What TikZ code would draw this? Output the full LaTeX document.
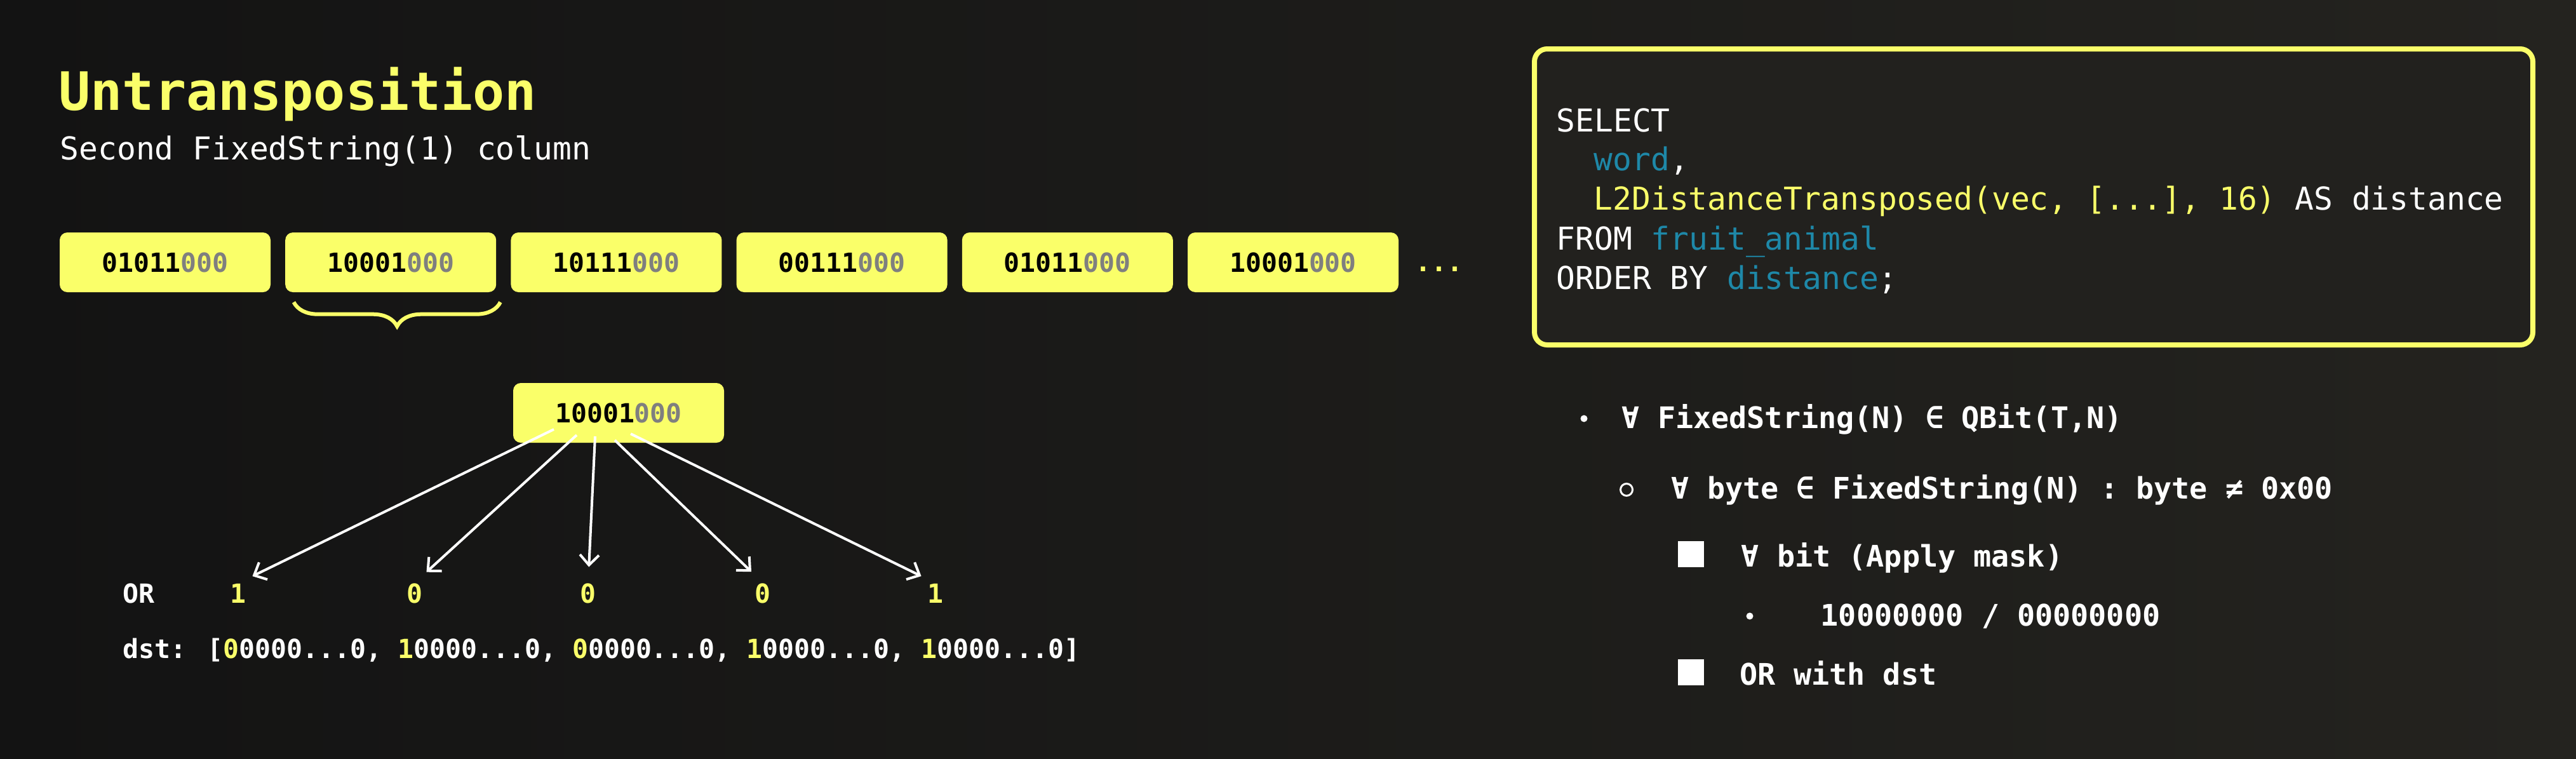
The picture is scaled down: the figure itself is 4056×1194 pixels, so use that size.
\documentclass[tikz,border=0pt]{standalone}
\usepackage{fontspec}
\usepackage{tikz}
\usetikzlibrary{arrows.meta,calc,decorations.pathreplacing}
\newfontfamily\monofont{DejaVu Sans Mono}
\definecolor{chyellow}{HTML}{FAFF69}
\definecolor{chblue}{HTML}{1E88A8}
\definecolor{bitgray}{HTML}{7F7F7F}
\definecolor{bgleft}{HTML}{131313}
\definecolor{bgright}{HTML}{24231F}
\definecolor{codebg}{HTML}{22211E}
\newcommand\titlefont{\monofont\bfseries\fontsize{23.7}{28}\selectfont}
\newcommand\subfont{\monofont\fontsize{14.1}{17}\selectfont}
\newcommand\bitfont{\monofont\bfseries\fontsize{11.8}{14}\selectfont}
\newcommand\listfont{\monofont\bfseries\fontsize{13.3}{16}\selectfont}
\newcommand\bits[2]{\textcolor{black}{#1}\textcolor{bitgray}{#2}}
\newcommand\hl[1]{\textcolor{chyellow}{#1}}
\newcommand\kw[1]{\textcolor{chblue}{#1}}
\tikzset{
  txt/.style={anchor=base west,inner sep=0pt,text=white},
  bitbox/.style={rectangle,rounded corners=1.2mm,fill=chyellow,minimum width=33.2mm,
    minimum height=9.4mm,inner sep=0pt,font=\bitfont},
  ordigit/.style={anchor=base,inner sep=0pt,text=chyellow,font=\bitfont},
  sqlline/.style={txt,font=\subfont},
  listtxt/.style={txt,font=\listfont},
  bulletdot/.style={circle,fill=white,inner sep=0pt,minimum size=1.1mm},
  bulletring/.style={circle,draw=white,line width=0.3mm,inner sep=0pt,minimum size=1.9mm},
  bulletsq/.style={rectangle,fill=white,inner sep=0pt,minimum size=4.1mm}
}

\begin{document}
\begin{tikzpicture}[x=0.1mm,y=-0.1mm,>={Straight Barb[length=1.6mm,width=3mm]}]
  % The background
  \fill[left color=bgleft,right color=bgright] (0,0) rectangle (4056,1194);
  \useasboundingbox (0,0) rectangle (4056,1194);
  % The title
  \node[txt,text=chyellow,font=\titlefont] (title) at (92,173) {Untransposition};
  \node[txt,font=\subfont] (subtitle) at (94,251) {Second FixedString(1) column};
  % The column
  \foreach \k/\hibits/\lobits in {0/01011/000,1/10001/000,2/10111/000,3/00111/000,4/01011/000,5/10001/000}
    \node[bitbox] (b\k) at (260+355.2*\k,413) {\bits{\hibits}{\lobits}};
  \node[txt,text=chyellow,font=\bitfont] (more) at (2228,427) {...};
  \draw[chyellow,line width=0.6mm,decorate,decoration={brace,amplitude=3.8mm}]
    ($(b1.south east)+(6,15)$) -- ($(b1.south west)+(14,15)$);
  % The selected value
  \node[bitbox] (sel) at (974,650) {\bits{10001}{000}};
  \foreach \k/\dx/\dy in {1/-102/26,2/-66/35,3/-37/37,4/-6/43,5/19/33}
    \coordinate (s\k) at ($(sel.center)+(\dx,\dy)$);
  % The bits
  \node[txt,font=\bitfont] (orlabel) at (193,949) {OR};
  \foreach \k/\xx/\v in {1/375/1,2/653/0,3/926/0,4/1201/0,5/1473/1}
    \node[ordigit] (o\k) at (\xx,949) {\v};
  \foreach \k in {1,...,5}
    \draw[->,white,line width=0.4mm,shorten >=2.5mm] (s\k) -- (o\k.north);
  \node[txt,font=\bitfont] (dst) at (193,1036)
    {dst: [\hl{0}0000...0, \hl{1}0000...0, \hl{0}0000...0, \hl{1}0000...0, \hl{1}0000...0]};
  % The query
  \node[draw=chyellow,line width=0.8mm,rounded corners=2mm,fill=codebg,
    minimum width=157.2mm,minimum height=46.6mm] (sql) at (3202,310) {};
  \node[sqlline] (l1) at (2450,207) {SELECT};
  \node[sqlline] (l2) at (2509,268) {\kw{word},};
  \node[sqlline] (l3) at (2509,330) {\hl{L2DistanceTransposed(vec, [...], 16)} AS distance};
  \node[sqlline] (l4) at (2450,393) {FROM \kw{fruit\_animal}};
  \node[sqlline] (l5) at (2450,455) {ORDER BY \kw{distance};};
  % The list
  \node[bulletdot] (d1) at (2494,659) {};
  \node[listtxt] (t1) at (2553,674) {∀ FixedString(N) ∈ QBit(T,N)};
  \node[bulletring] (d2) at (2561,771) {};
  \node[listtxt] (t2) at (2631,785) {∀ byte ∈ FixedString(N) : byte ≠ 0x00};
  \node[bulletsq] (d3) at (2662,872) {};
  \node[listtxt] (t3) at (2741,892) {∀ bit (Apply mask)};
  \node[bulletdot] (d4) at (2755,970) {};
  \node[listtxt] (t4) at (2866,985) {10000000 / 00000000};
  \node[bulletsq] (d5) at (2662,1058) {};
  \node[listtxt] (t5) at (2739,1078) {OR with dst};
\end{tikzpicture}
\end{document}
